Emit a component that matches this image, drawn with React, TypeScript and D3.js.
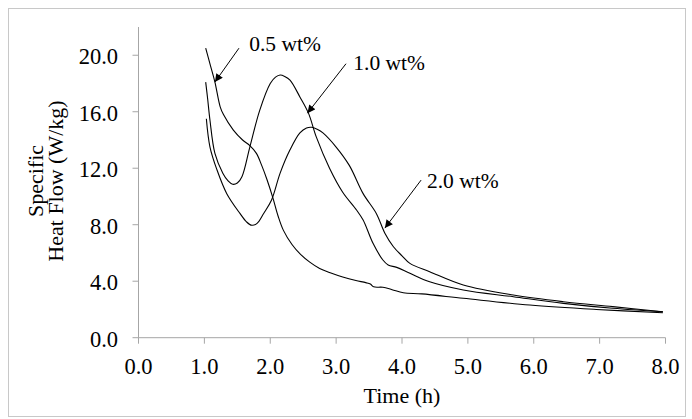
import React from "react";
import * as d3 from "d3";

const xTicks = [0, 1, 2, 3, 4, 5, 6, 7, 8];
const yTicks = [0, 4, 8, 12, 16, 20];

const series05: [number, number][] = [
  [1.02, 20.5], [1.09, 19.3], [1.16, 18.1], [1.24, 16.35], [1.29, 15.8], [1.44, 14.7],
  [1.58, 14.0], [1.69, 13.6], [1.79, 13.05], [1.87, 12.2], [1.95, 11.2], [2.04, 9.9],
  [2.12, 8.6], [2.2, 7.6], [2.33, 6.6], [2.46, 5.9], [2.6, 5.35], [2.75, 4.9],
  [2.91, 4.6], [3.1, 4.3], [3.3, 4.05], [3.45, 3.9], [3.52, 3.8], [3.57, 3.6],
  [3.71, 3.57], [3.85, 3.4], [4.02, 3.18], [4.3, 3.1], [4.93, 2.79], [5.94, 2.31],
  [6.95, 2.0], [7.96, 1.77],
];

const series10: [number, number][] = [
  [1.02, 18.1], [1.05, 16.9], [1.085, 15.4], [1.16, 13.05], [1.28, 11.65], [1.36, 11.1],
  [1.43, 10.86], [1.5, 10.95], [1.57, 11.4], [1.69, 13.5], [1.84, 16.1], [2.0, 18.0],
  [2.08, 18.45], [2.15, 18.6], [2.22, 18.5], [2.3, 18.24], [2.45, 17.05], [2.58, 15.9],
  [2.7, 14.2], [2.9, 12.0], [3.1, 10.3], [3.31, 9.04], [3.41, 8.33], [3.56, 6.68],
  [3.71, 5.5], [3.79, 5.15], [3.92, 4.98], [4.12, 4.56], [4.42, 3.96], [4.93, 3.38],
  [5.69, 2.9], [6.45, 2.43], [7.2, 2.08], [7.96, 1.84],
];

const series20: [number, number][] = [
  [1.03, 15.5], [1.085, 13.5], [1.19, 11.9], [1.34, 10.2], [1.54, 8.8], [1.64, 8.2],
  [1.72, 7.96], [1.8, 8.1], [1.9, 8.8], [2.02, 9.75], [2.15, 11.65], [2.3, 13.3],
  [2.45, 14.5], [2.55, 14.85], [2.63, 14.9], [2.72, 14.75], [2.8, 14.5], [3.0, 13.5],
  [3.2, 12.2], [3.41, 10.2], [3.61, 8.8], [3.74, 7.4], [3.87, 6.44], [4.0, 5.8],
  [4.12, 5.26], [4.42, 4.67], [4.93, 3.73], [5.69, 3.02], [6.45, 2.55], [7.2, 2.2],
  [7.96, 1.84],
];

const allSeries = [series05, series10, series20];

const annotationLabels = ["0.5 wt%", "1.0 wt%", "2.0 wt%"];
// [tipX, tipY, tailX, tailY, textX, textY] in data units
const annotationGeometry: number[][] = [
  [1.16, 18.1, 1.525, 20.5, 1.68, 20.3],
  [2.565, 15.9, 3.15, 19.4, 3.26, 18.95],
  [3.74, 7.76, 4.29, 11.16, 4.378, 10.6],
];

const W = 692;
const H = 419;
const FONT = "'Liberation Serif', 'Times New Roman', serif";

export default function App() {
  const x = d3.scaleLinear().domain([0, 8]).range([138.5, 665.5]);
  const y = d3.scaleLinear().domain([0, 22]).range([337.7, 27]);
  const line = d3
    .line<[number, number]>()
    .x((d) => x(d[0]))
    .y((d) => y(d[1]))
    .curve(d3.curveCatmullRom.alpha(0.5));

  const axisColor = "#a6a6a6";

  return (
    <>
      <style>{`html,body{margin:0;padding:0;background:#fff}`}</style>
      <svg width={W} height={H} style={{ display: "block" }} fontFamily={FONT}>
        <defs>
          <marker
            id="arrow"
            viewBox="0 0 10 10"
            refX="10"
            refY="5"
            markerWidth="9"
            markerHeight="8"
            markerUnits="userSpaceOnUse"
            orient="auto"
          >
            <path d="M0,0 L10,5 L0,10 Z" fill="#000" />
          </marker>
        </defs>
        <rect x={8.5} y={8.5} width={677} height={408} fill="#fff" stroke="#c8c8c8" strokeWidth={1} />

        {/* axes */}
        <line x1={x(0)} x2={x(0)} y1={y(22)} y2={y(0)} stroke={axisColor} strokeWidth={1} />
        <line x1={x(0)} x2={x(8)} y1={y(0)} y2={y(0)} stroke={axisColor} strokeWidth={1} />
        {yTicks.map((t) => (
          <g key={"y" + t}>
            <line x1={x(0) - 6} x2={x(0)} y1={y(t)} y2={y(t)} stroke={axisColor} strokeWidth={1} />
            <text x={118} y={y(t) + 9} textAnchor="end" fontSize={22.5} fill="#000">
              {t.toFixed(1)}
            </text>
          </g>
        ))}
        {xTicks.map((t) => (
          <g key={"x" + t}>
            <line x1={x(t)} x2={x(t)} y1={y(0)} y2={y(0) + 6} stroke={axisColor} strokeWidth={1} />
            <text x={x(t)} y={374} textAnchor="middle" fontSize={22.5} fill="#000">
              {t.toFixed(1)}
            </text>
          </g>
        ))}

        <text x={(x(0) + x(8)) / 2} y={403} textAnchor="middle" fontSize={22} fill="#000">
          Time (h)
        </text>

        <g transform="translate(0,181) rotate(-90)">
          <text x={0} y={42.5} textAnchor="middle" fontSize={22} fill="#000">
            Specific
          </text>
          <text x={0} y={63} textAnchor="middle" fontSize={22} fill="#000">
            Heat Flow (W/kg)
          </text>
        </g>

        {allSeries.map((s, i) => (
          <path key={i} d={line(s) || ""} fill="none" stroke="#000" strokeWidth={1.1} />
        ))}

        {annotationGeometry.map((g, i) => (
          <g key={"a" + i}>
            <line
              x1={x(g[2])}
              y1={y(g[3])}
              x2={x(g[0])}
              y2={y(g[1])}
              stroke="#000"
              strokeWidth={1}
              markerEnd="url(#arrow)"
            />
            <text x={x(g[4])} y={y(g[5])} fontSize={21.5} fill="#000">
              {annotationLabels[i]}
            </text>
          </g>
        ))}
      </svg>
    </>
  );
}
